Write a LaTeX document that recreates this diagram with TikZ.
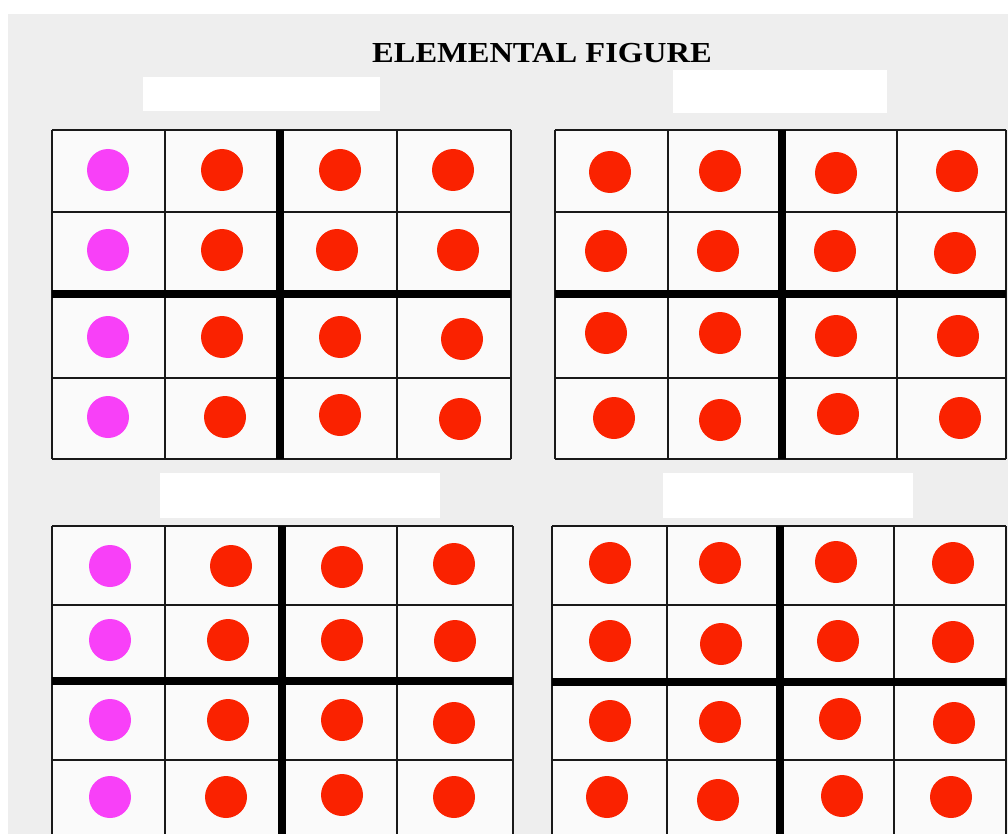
\documentclass[tikz,border=0pt]{standalone}
\usepackage{fontspec}
\setmainfont{Liberation Serif}
\definecolor{dotred}{RGB}{250,34,0}
\definecolor{dotpink}{RGB}{248,64,248}
\definecolor{bggrey}{RGB}{238,238,238}
\definecolor{cellwhite}{RGB}{250,250,250}
\begin{document}
\begin{tikzpicture}[x=1pt,y=-1pt,
  thinline/.style={line width=2.8pt,black!90},
  thickline/.style={line width=7.5pt,black},
  blank/.style={fill=white},
  reddot/.style={fill=dotred},
  pinkdot/.style={fill=dotpink}]
\useasboundingbox (0,0) rectangle (1008,834);
\clip (0,0) rectangle (1008,834);
\fill[white] (0,0) rectangle (1008,834);
\fill[bggrey] (8,14) rectangle (1008,834);
% title
\node[font=\bfseries\fontsize{29}{32}\selectfont, inner sep=0pt] (title) at (542,53) {\scalebox{1.12}[1]{ELEMENTAL FIGURE}};
% blank label patches
\fill[blank] (143,77) rectangle (380,111);
\fill[blank] (673,70) rectangle (887,113);
\fill[blank] (160,473) rectangle (440,518);
\fill[blank] (663,473) rectangle (913,518);
% grids
\foreach \xa/\xb/\xc/\xd/\xe/\ya/\yb/\yc/\yd/\ye in {
  52/165/280/397/511/130/212/294/378/459,
  555/668/782/897/1006/130/212/294/378/459,
  52/165/282/397/513/526/605/681/760/840,
  552/667/780/894/1006/526/605/682/760/840}{
  \fill[cellwhite] (\xa,\ya) rectangle (\xe,\ye);
  \foreach \yy in {\ya,\yb,\yd,\ye} \draw[thinline] (\xa,\yy) -- (\xe,\yy);
  \foreach \xx in {\xa,\xb,\xd,\xe} \draw[thinline] (\xx,\ya) -- (\xx,\ye);
  \draw[thickline] (\xa,\yc) -- (\xe,\yc);
  \draw[thickline] (\xc,\ya) -- (\xc,\ye);
}
% pink dots
\foreach \x/\y in {108/170,108/250,108/337,108/417,110/566,110/640,110/720,110/797}
  \fill[pinkdot] (\x,\y) circle (21);
% red dots
\foreach \x/\y in {
  222/170,340/170,453/170, 222/250,337/250,458/250, 222/337,340/337,462/339, 225/417,340/415,460/419,
  610/172,720/171,836/173,957/171, 606/251,718/251,835/251,955/253, 606/333,720/333,836/336,958/336, 614/418,720/420,838/414,960/418,
  231/566,342/567,454/564, 228/640,342/640,455/641, 228/720,342/720,454/723, 226/797,342/795,454/797,
  610/563,720/563,836/562,953/563, 610/641,721/644,838/641,953/642, 610/721,720/722,840/719,954/723, 607/797,718/800,842/796,951/797}
  \fill[reddot] (\x,\y) circle (21);
\end{tikzpicture}
\end{document}
